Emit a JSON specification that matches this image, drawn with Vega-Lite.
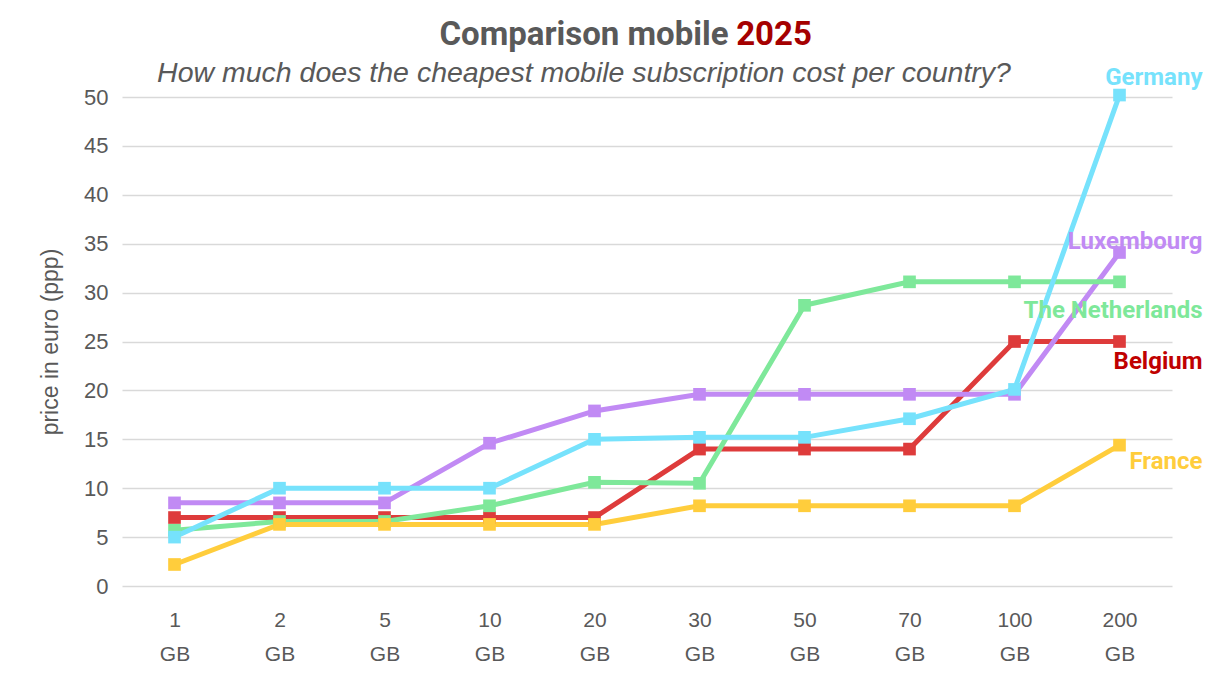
{
  "$schema": "https://vega.github.io/schema/vega-lite/v6.json",
  "autosize": {"type": "pad"},
  "padding": {"left": 39, "top": 18, "right": 0, "bottom": 0},
  "background": "white",
  "config": {
    "view": {"stroke": null},
    "font": "Liberation Sans"
  },
  "title": {
    "text": "2025",
    "anchor": "middle",
    "frame": "group",
    "font": "Roboto",
    "fontSize": 33,
    "fontWeight": "bold",
    "color": "#A50000",
    "baseline": "alphabetic",
    "dx": 127,
    "dy": 63
  },
  "datasets": {
    "prices": [
      {"country": "Belgium", "size": "1 GB", "price": 7.0},
      {"country": "Belgium", "size": "2 GB", "price": 7.0},
      {"country": "Belgium", "size": "5 GB", "price": 7.0},
      {"country": "Belgium", "size": "10 GB", "price": 7.0},
      {"country": "Belgium", "size": "20 GB", "price": 7.0},
      {"country": "Belgium", "size": "30 GB", "price": 14.0},
      {"country": "Belgium", "size": "50 GB", "price": 14.0},
      {"country": "Belgium", "size": "70 GB", "price": 14.0},
      {"country": "Belgium", "size": "100 GB", "price": 25.0},
      {"country": "Belgium", "size": "200 GB", "price": 25.0},
      {"country": "Luxembourg", "size": "1 GB", "price": 8.5},
      {"country": "Luxembourg", "size": "2 GB", "price": 8.5},
      {"country": "Luxembourg", "size": "5 GB", "price": 8.5},
      {"country": "Luxembourg", "size": "10 GB", "price": 14.6},
      {"country": "Luxembourg", "size": "20 GB", "price": 17.9},
      {"country": "Luxembourg", "size": "30 GB", "price": 19.6},
      {"country": "Luxembourg", "size": "50 GB", "price": 19.6},
      {"country": "Luxembourg", "size": "70 GB", "price": 19.6},
      {"country": "Luxembourg", "size": "100 GB", "price": 19.6},
      {"country": "Luxembourg", "size": "200 GB", "price": 34.1},
      {"country": "The Netherlands", "size": "1 GB", "price": 5.7},
      {"country": "The Netherlands", "size": "2 GB", "price": 6.6},
      {"country": "The Netherlands", "size": "5 GB", "price": 6.6},
      {"country": "The Netherlands", "size": "10 GB", "price": 8.2},
      {"country": "The Netherlands", "size": "20 GB", "price": 10.6},
      {"country": "The Netherlands", "size": "30 GB", "price": 10.5},
      {"country": "The Netherlands", "size": "50 GB", "price": 28.7},
      {"country": "The Netherlands", "size": "70 GB", "price": 31.1},
      {"country": "The Netherlands", "size": "100 GB", "price": 31.1},
      {"country": "The Netherlands", "size": "200 GB", "price": 31.1},
      {"country": "Germany", "size": "1 GB", "price": 5.0},
      {"country": "Germany", "size": "2 GB", "price": 10.0},
      {"country": "Germany", "size": "5 GB", "price": 10.0},
      {"country": "Germany", "size": "10 GB", "price": 10.0},
      {"country": "Germany", "size": "20 GB", "price": 15.0},
      {"country": "Germany", "size": "30 GB", "price": 15.2},
      {"country": "Germany", "size": "50 GB", "price": 15.2},
      {"country": "Germany", "size": "70 GB", "price": 17.1},
      {"country": "Germany", "size": "100 GB", "price": 20.1},
      {"country": "Germany", "size": "200 GB", "price": 50.2},
      {"country": "France", "size": "1 GB", "price": 2.2},
      {"country": "France", "size": "2 GB", "price": 6.3},
      {"country": "France", "size": "5 GB", "price": 6.3},
      {"country": "France", "size": "10 GB", "price": 6.3},
      {"country": "France", "size": "20 GB", "price": 6.3},
      {"country": "France", "size": "30 GB", "price": 8.2},
      {"country": "France", "size": "50 GB", "price": 8.2},
      {"country": "France", "size": "70 GB", "price": 8.2},
      {"country": "France", "size": "100 GB", "price": 8.2},
      {"country": "France", "size": "200 GB", "price": 14.4}
    ]
  },
  "vconcat": [
    {
      "title": {
        "text": "Comparison mobile",
        "subtitle": "How much does the cheapest mobile subscription cost per country?",
        "anchor": "middle",
        "frame": "group",
        "dx": -63,
        "font": "Roboto",
        "fontSize": 33,
        "fontWeight": "bold",
        "color": "#595959",
        "subtitleFont": "Liberation Sans",
        "subtitleFontSize": 28.5,
        "subtitleFontStyle": "italic",
        "subtitleColor": "#595959",
        "subtitlePadding": 7,
        "offset": -21
      },
      "width": 1050,
      "height": 489,
      "data": {"name": "prices"},
      "encoding": {
        "x": {
          "field": "size",
          "type": "nominal",
          "sort": ["1 GB", "2 GB", "5 GB", "10 GB", "20 GB", "30 GB", "50 GB", "70 GB", "100 GB", "200 GB"],
          "scale": {"padding": 0.5},
          "axis": {
            "title": null,
            "labelAngle": 0,
            "domain": false,
            "ticks": false,
            "labelExpr": "split(datum.label, ' ')",
            "labelFontSize": 21,
            "labelLineHeight": 34,
            "labelColor": "#595959",
            "labelPadding": 23,
            "labelFont": "Liberation Sans"
          }
        },
        "y": {
          "field": "price",
          "type": "quantitative",
          "scale": {"domain": [0, 50], "nice": false},
          "axis": {
            "title": "price in euro (ppp)",
            "titleFontSize": 23,
            "titleFontWeight": "normal",
            "titleColor": "#595959",
            "titlePadding": 21,
            "values": [0, 5, 10, 15, 20, 25, 30, 35, 40, 45, 50],
            "labelFontSize": 22,
            "labelColor": "#595959",
            "labelPadding": 14,
            "domain": false,
            "ticks": false,
            "gridColor": "#D9D9D9",
            "gridWidth": 1.5
          }
        },
        "color": {
          "field": "country",
          "type": "nominal",
          "scale": {
            "domain": ["Belgium", "Luxembourg", "The Netherlands", "Germany", "France"],
            "range": ["#DE3B3B", "#C18AF4", "#7EE89A", "#76E2FC", "#FFCD3C"]
          },
          "legend": null
        }
      },
      "layer": [
        {"mark": {"type": "line", "strokeWidth": 5}},
        {"mark": {"type": "point", "shape": "square", "filled": true, "opacity": 1, "size": 160}},
        {
          "transform": [{"filter": "datum.size == '200 GB' && datum.country == 'Germany'"}],
          "mark": {"type": "text", "align": "right", "dx": 83, "dy": -17, "fontSize": 24, "fontWeight": "bold", "font": "Roboto"},
          "encoding": {"text": {"field": "country"}, "color": {"value": "#76E2FC"}}
        },
        {
          "transform": [{"filter": "datum.size == '200 GB' && datum.country == 'Luxembourg'"}],
          "mark": {"type": "text", "align": "right", "dx": 83, "dy": -11, "fontSize": 24, "fontWeight": "bold", "font": "Roboto"},
          "encoding": {"text": {"field": "country"}, "color": {"value": "#C18AF4"}}
        },
        {
          "transform": [{"filter": "datum.size == '200 GB' && datum.country == 'The Netherlands'"}],
          "mark": {"type": "text", "align": "right", "dx": 83, "dy": 29, "fontSize": 24, "fontWeight": "bold", "font": "Roboto"},
          "encoding": {"text": {"field": "country"}, "color": {"value": "#7EE89A"}}
        },
        {
          "transform": [{"filter": "datum.size == '200 GB' && datum.country == 'Belgium'"}],
          "mark": {"type": "text", "align": "right", "dx": 83, "dy": 20, "fontSize": 24, "fontWeight": "bold", "font": "Roboto"},
          "encoding": {"text": {"field": "country"}, "color": {"value": "#C00000"}}
        },
        {
          "transform": [{"filter": "datum.size == '200 GB' && datum.country == 'France'"}],
          "mark": {"type": "text", "align": "right", "dx": 83, "dy": 17, "fontSize": 24, "fontWeight": "bold", "font": "Roboto"},
          "encoding": {"text": {"field": "country"}, "color": {"value": "#FFCD3C"}}
        }
      ]
    }
  ]
}
